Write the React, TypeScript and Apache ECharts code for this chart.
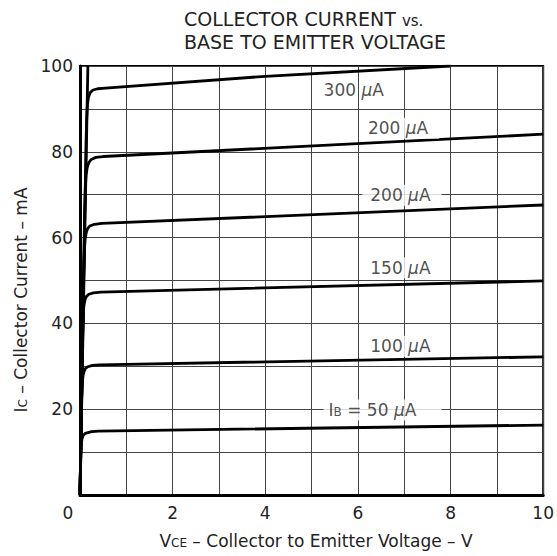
import React, { useEffect, useRef } from "react";
import * as echarts from "echarts";

const FONT = "DejaVu Sans";

// axis ranges
const xMin = 0;
const xMax = 10;
const xStep = 1;
const yMin = 0;
const yMax = 100;
const yStep = 10;

// saturation (steep) line
const saturationLine: number[][] = [[0, 0], [0.17, 100]];

// collector characteristic curves [VCE (V), IC (mA)]
const ib50: number[][] = [
  [0, 0], [0.02, 10], [0.03, 12.2], [0.045, 13.2], [0.07, 13.9], [0.1, 14.25], [0.15, 14.5], [0.25, 14.75], [0.4, 14.9], [10, 16.3],
];
const ib100: number[][] = [
  [0, 0], [0.035, 22], [0.05, 26], [0.065, 27.8], [0.09, 28.9], [0.12, 29.5], [0.17, 29.9], [0.27, 30.2], [0.42, 30.35], [10, 32.2],
];
const ib150: number[][] = [
  [0, 0], [0.055, 38], [0.07, 42.2], [0.085, 44.2], [0.11, 45.6], [0.14, 46.3], [0.19, 46.8], [0.29, 47.1], [0.45, 47.3], [10, 49.9],
];
const ib200a: number[][] = [
  [0, 0], [0.08, 52], [0.095, 57], [0.11, 59.6], [0.135, 61.2], [0.165, 62.1], [0.21, 62.7], [0.31, 63.1], [0.47, 63.3], [10, 67.6],
];
const ib200b: number[][] = [
  [0, 0], [0.1, 66], [0.115, 71.5], [0.13, 74.4], [0.155, 76.3], [0.19, 77.5], [0.24, 78.2], [0.34, 78.7], [0.5, 78.9], [10, 84.1],
];
const ib300: number[][] = [
  [0, 0], [0.13, 82], [0.145, 88], [0.16, 91], [0.185, 92.8], [0.22, 93.8], [0.28, 94.4], [0.38, 94.7], [0.55, 94.85], [4, 97.6], [8, 100],
];

const curves = [ib50, ib100, ib150, ib200a, ib200b, ib300];

// curve labels
const labelTexts = [
  "300 {mu|µ}A",
  "200 {mu|µ}A",
  "200 {mu|µ}A",
  "150 {mu|µ}A",
  "100 {mu|µ}A",
  "I{sub|B} = 50 {mu|µ}A",
];
const labelV = [5.91, 6.9, 6.95, 6.95, 6.95, 6.53];
const labelI = [94.4, 85.5, 69.9, 53.0, 34.7, 19.8];
const labelBoxed = [false, true, true, true, true, true];

const titleLine1 = "COLLECTOR CURRENT {s|vs.}";
const titleLine2 = "BASE TO EMITTER VOLTAGE";
const xName = "V{sub|CE} – Collector to Emitter Voltage – V";
const yName = "I{sub|C} – Collector Current – mA";

const TEXT_COLOR = "#222";

export default function App() {
  const ref = useRef<HTMLDivElement>(null);

  useEffect(() => {
    if (!ref.current) return;
    const chart = echarts.init(ref.current, null, { renderer: "svg" });

    const baseRich = (size: number) => ({
      n: { fontFamily: FONT, fontSize: size, color: TEXT_COLOR, verticalAlign: "bottom" },
      sub: { fontFamily: FONT, fontSize: Math.round(size * 0.72), color: TEXT_COLOR, verticalAlign: "bottom", padding: [0, 0, 1, 0] },
      mu: { fontFamily: FONT, fontSize: size, fontStyle: "italic", color: TEXT_COLOR, verticalAlign: "bottom" },
      s: { fontFamily: FONT, fontSize: Math.round(size * 0.8), color: TEXT_COLOR, verticalAlign: "bottom" },
    });

    const lineSeries = curves.map((c) => ({
      type: "line",
      data: c,
      showSymbol: false,
      symbol: "none",
      lineStyle: { color: "#000", width: 2.8, join: "round" },
      z: 3,
    }));

    const labelData = labelTexts.map((t, k) => ({
      value: [labelV[k], labelI[k]],
      label: {
        show: true,
        position: "inside",
        formatter: t,
        fontFamily: FONT,
        fontSize: 17,
        color: TEXT_COLOR,
        backgroundColor: labelBoxed[k] ? "#fff" : "transparent",
        padding: labelBoxed[k] ? (k === 5 ? [2, 25, 2, 5] : [2, 11, 2, 8]) : 0,
        rich: baseRich(17),
      },
    }));

    chart.setOption({
      animation: false,
      backgroundColor: "#fff",
      grid: {
        left: 80,
        right: 12,
        top: 66,
        bottom: 61,
        show: true,
        borderColor: "#000",
        borderWidth: 2,
        backgroundColor: "transparent",
      },
      xAxis: {
        type: "value",
        min: xMin,
        max: xMax,
        interval: xStep,
        axisLine: { show: true, onZero: false, lineStyle: { color: "#000", width: 3 } },
        axisTick: { show: false },
        splitLine: { show: true, lineStyle: { color: "#444", width: 1 } },
        axisLabel: {
          margin: 9,
          fontFamily: FONT,
          fontSize: 17,
          color: TEXT_COLOR,
          formatter: (v: number) => (v === 0 ? "{z|0}" : v % 2 === 0 ? String(v) : ""),
          rich: { z: { fontFamily: FONT, fontSize: 17, color: TEXT_COLOR, padding: [0, 24, 0, 0] } },
        },
      },
      yAxis: {
        type: "value",
        min: yMin,
        max: yMax,
        interval: yStep,
        axisLine: { show: true, onZero: false, lineStyle: { color: "#000", width: 3 } },
        axisTick: { show: false },
        splitLine: { show: true, lineStyle: { color: "#444", width: 1 } },
        axisLabel: {
          margin: 7,
          fontFamily: FONT,
          fontSize: 17,
          color: TEXT_COLOR,
          formatter: (v: number) => (v !== 0 && v % 20 === 0 ? String(v) : ""),
        },
      },
      graphic: [
        {
          type: "text",
          left: 184,
          top: 9,
          style: { text: titleLine1, fontFamily: FONT, fontSize: 19, fill: TEXT_COLOR, rich: baseRich(19) },
        },
        {
          type: "text",
          left: 184,
          top: 32,
          style: { text: titleLine2, fontFamily: FONT, fontSize: 19, fill: TEXT_COLOR, rich: baseRich(19) },
        },
        {
          type: "text",
          x: 316,
          y: 541,
          style: {
            text: xName,
            fontFamily: FONT,
            fontSize: 17,
            fill: TEXT_COLOR,
            align: "center",
            verticalAlign: "middle",
            rich: baseRich(17),
          },
        },
        {
          type: "text",
          x: 21,
          y: 300,
          rotation: Math.PI / 2,
          style: {
            text: yName,
            fontFamily: FONT,
            fontSize: 17,
            fill: TEXT_COLOR,
            align: "center",
            verticalAlign: "middle",
            rich: baseRich(17),
          },
        },
      ],
      series: [
        {
          type: "line",
          data: saturationLine,
          showSymbol: false,
          symbol: "none",
          lineStyle: { color: "#000", width: 2.8 },
          z: 3,
        },
        ...lineSeries,
        {
          type: "scatter",
          data: labelData,
          symbolSize: 0,
          z: 5,
          silent: true,
        },
      ],
    });

    return () => chart.dispose();
  }, []);

  return (
    <div
      ref={ref}
      style={{ position: "fixed", left: 0, top: 0, width: 557, height: 556 }}
    />
  );
}
